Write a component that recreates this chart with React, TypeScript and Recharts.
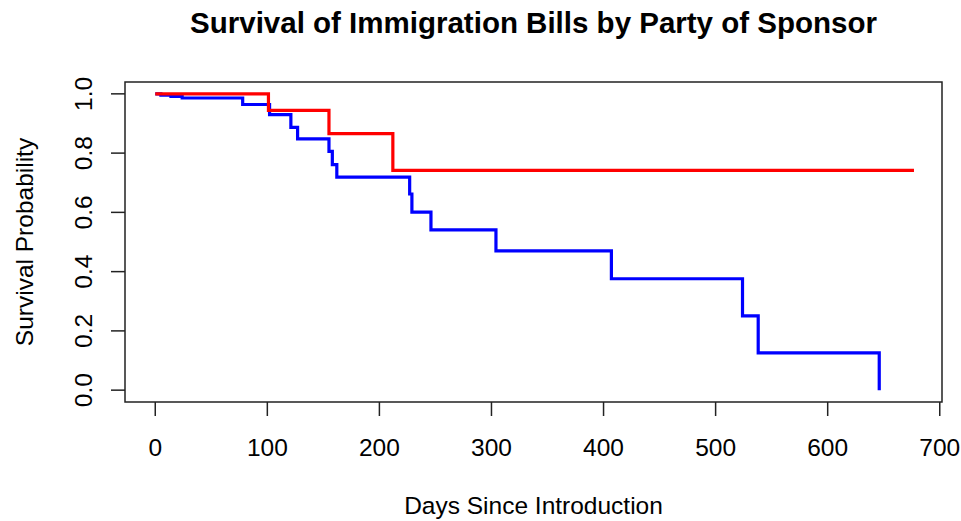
import React from "react";
import { LineChart, Line, XAxis, YAxis, ReferenceArea } from "recharts";

// Kaplan-Meier steps (day, survival)
const blueDays = [0, 5, 14, 24, 78, 102, 121, 127, 155, 158, 162, 227, 229, 246, 304, 407, 524, 538, 646];
const blueSurv = [1.0, 0.996, 0.991, 0.986, 0.964, 0.93, 0.887, 0.848, 0.806, 0.761, 0.719, 0.662, 0.601, 0.541, 0.47, 0.376, 0.251, 0.126, 0.0];

const redDays = [0, 101, 155, 212, 677];
const redSurv = [1.0, 0.944, 0.866, 0.742, 0.742];

const xTicks = [0, 100, 200, 300, 400, 500, 600, 700];
const yTicks = [0, 0.2, 0.4, 0.6, 0.8, 1.0];

const X_DOMAIN = [-27, 702];
const Y_DOMAIN = [-0.04, 1.04];

const FONT = "'Liberation Sans', Arial, Helvetica, sans-serif";
const LABEL_SIZE = 24.5;

const blueData = blueDays.map((d, i) => ({ day: d, surv: blueSurv[i] }));
const redData = redDays.map((d, i) => ({ day: d, surv: redSurv[i] }));

const XTick = (props: any) => {
  const { x, y, payload } = props;
  return (
    <text x={x} y={y} dy={38} textAnchor="middle" fontFamily={FONT} fontSize={LABEL_SIZE} fill="#000">
      {payload.value}
    </text>
  );
};

const YTick = (props: any) => {
  const { x, y, payload } = props;
  return (
    <text
      transform={`translate(${x - 17.5},${y}) rotate(-90)`}
      textAnchor="middle"
      fontFamily={FONT}
      fontSize={LABEL_SIZE}
      fill="#000"
    >
      {Number(payload.value).toFixed(1)}
    </text>
  );
};

export default function App() {
  return (
    <div style={{ position: "absolute", left: 0, top: 0, width: 961, height: 521, background: "#fff" }}>
      <LineChart width={961} height={521} margin={{ top: 82, right: 19, bottom: 89, left: 65 }}>
        <XAxis
          type="number"
          dataKey="day"
          domain={X_DOMAIN}
          allowDataOverflow
          ticks={xTicks}
          height={30}
          axisLine={false}
          tickSize={14}
          tickLine={{ stroke: "#222", strokeWidth: 1.5 }}
          tick={<XTick />}
        />
        <YAxis
          type="number"
          dataKey="surv"
          domain={Y_DOMAIN}
          allowDataOverflow
          ticks={yTicks}
          width={60}
          axisLine={false}
          tickSize={14}
          tickLine={{ stroke: "#222", strokeWidth: 1.5 }}
          tick={<YTick />}
        />
        <ReferenceArea
          x1={X_DOMAIN[0]}
          x2={X_DOMAIN[1]}
          y1={Y_DOMAIN[0]}
          y2={Y_DOMAIN[1]}
          fill="none"
          fillOpacity={0}
          stroke="#222"
          strokeWidth={1.5}
        />
        <Line
          data={blueData}
          dataKey="surv"
          type="stepAfter"
          stroke="#0000FF"
          strokeWidth={3.2}
          dot={false}
          isAnimationActive={false}
        />
        <Line
          data={redData}
          dataKey="surv"
          type="stepAfter"
          stroke="#FF0000"
          strokeWidth={3.2}
          dot={false}
          isAnimationActive={false}
        />
      </LineChart>
      <svg
        width={961}
        height={521}
        style={{ position: "absolute", left: 0, top: 0, pointerEvents: "none" }}
      >
        <text x={533.5} y={33} textAnchor="middle" fontFamily={FONT} fontSize={29.5} fontWeight="bold" fill="#000">
          Survival of Immigration Bills by Party of Sponsor
        </text>
        <text x={533.5} y={514} textAnchor="middle" fontFamily={FONT} fontSize={LABEL_SIZE} fill="#000">
          Days Since Introduction
        </text>
        <text
          transform="translate(33,242) rotate(-90)"
          textAnchor="middle"
          fontFamily={FONT}
          fontSize={LABEL_SIZE}
          fill="#000"
        >
          Survival Probability
        </text>
      </svg>
    </div>
  );
}
